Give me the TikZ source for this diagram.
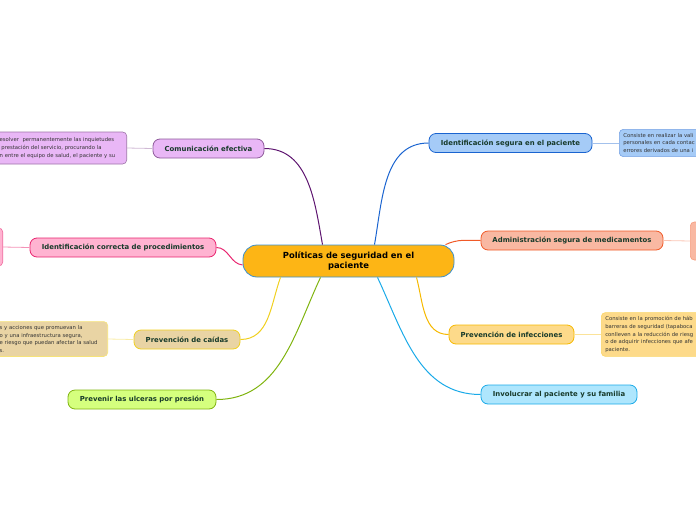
\documentclass[tikz,border=0pt]{standalone}
\usepackage{fontspec}
\setmainfont{DejaVu Sans}
\usetikzlibrary{positioning}

\definecolor{hubfill}{HTML}{FDB515}
\definecolor{hubline}{HTML}{3A90D0}
\definecolor{comfill}{HTML}{E9B7F6}
\definecolor{comline}{HTML}{5E1570}
\definecolor{corfill}{HTML}{FFB3D1}
\definecolor{corline}{HTML}{E8246F}
\definecolor{caifill}{HTML}{E9D4A4}
\definecolor{cailine}{HTML}{F0D020}
\definecolor{ulcfill}{HTML}{D5FF7E}
\definecolor{ulcline}{HTML}{80B410}
\definecolor{segfill}{HTML}{A5CBF7}
\definecolor{segline}{HTML}{1A64D0}
\definecolor{admfill}{HTML}{F9B8A2}
\definecolor{admline}{HTML}{F05A28}
\definecolor{inffill}{HTML}{FDDA8A}
\definecolor{infline}{HTML}{F6B900}
\definecolor{invfill}{HTML}{AEE6FD}
\definecolor{invline}{HTML}{1AAAE8}
\definecolor{labeltext}{HTML}{173A2A}

\begin{document}
\begin{tikzpicture}[x=1pt, y=-1pt,
	every node/.style={font=\bfseries\fontsize{6.9}{8}\selectfont, text=labeltext},
	hub/.style={draw=hubline, fill=hubfill, line width=0.8pt, rounded corners=14pt, minimum width=211pt, minimum height=32pt, align=center, text=black, font=\bfseries\fontsize{8.4}{10}\selectfont},
	topic/.style={draw, line width=0.8pt, rounded corners=7pt, minimum height=19pt, inner xsep=4pt},
	note/.style={draw, line width=0.6pt, rounded corners=4pt, align=left, inner sep=4pt, text=black!80, font=\fontsize{5.3}{7.6}\selectfont},
	branch/.style={line width=1pt},
	twig/.style={line width=0.8pt}]
	\useasboundingbox (0,0) rectangle (696,520);
	\clip (0,0) rectangle (696,520);
	% central idea
	\node[hub] (ctr) at (348.5,261) {Políticas de seguridad en el\\paciente};
	% left branches
	\node[topic, fill=comfill, draw=comline!70, minimum width=111pt] (com) at (208.5,148.5) {Comunicación efectiva};
	\node[topic, fill=corfill, draw=corline, minimum width=186pt] (cor) at (123,247.5) {Identificación correcta de procedimientos};
	\node[topic, fill=caifill, draw=cailine, minimum width=106pt] (cai) at (187,339.5) {Prevención de caídas};
	\node[topic, fill=ulcfill, draw=ulcline, minimum width=148pt] (ulc) at (142,399.5) {Prevenir las ulceras por presión};
	% right branches
	\node[topic, fill=segfill, draw=segline, minimum width=163pt] (seg) at (510.5,143) {Identificación segura en el paciente};
	\node[topic, fill=admfill, draw=admline, minimum width=182pt] (adm) at (572,240.5) {Administración segura de medicamentos};
	\node[topic, fill=inffill, draw=infline, minimum width=125pt] (inf) at (511.5,334.5) {Prevención de infecciones};
	\node[topic, fill=invfill, draw=invline, minimum width=156pt] (inv) at (559,394.5) {Involucrar al paciente y su familia};
	% notes
	\node[note, fill=comfill, draw=comline!60, anchor=east, text width=123pt, minimum height=32pt] (comnote) at (127,148) {esolver\ \ permanentemente las inquietudes\\\ prestación del servicio, procurando la\\n entre el equipo de salud, el paciente y su};
	\node[note, fill=corfill, draw=corline!70, anchor=east, minimum width=30pt, minimum height=38pt] (cornote) at (3,247) {};
	\node[note, fill=caifill, draw=cailine!60, anchor=east, text width=104pt, minimum height=32pt] (cainote) at (108,339) {s y acciones que promuevan la\\o y una infraestructura segura,\\e riesgo que puedan afectar la salud\\s.};
	\node[note, fill=segfill, draw=segline!60, anchor=west, text width=120pt, minimum height=26pt] (segnote) at (619,143) {Consiste en realizar la vali\\personales en cada contac\\errores derivados de una i};
	\node[note, fill=admfill, draw=admline!60, anchor=west, minimum width=40pt, minimum height=38pt] (admnote) at (690,241) {};
	\node[note, fill=inffill, draw=infline!60, anchor=west, text width=120pt, minimum height=39pt] (infnote) at (601,334.5) {Consiste en la promoción de háb\\barreras de seguridad (tapaboca\\conlleven a la reducción de riesg\\o de adquirir infecciones que afe\\paciente.};
	% connectors from the centre
	\draw[branch, comline] ([xshift=-26pt]ctr.north) to[out=100, in=0] (com.east);
	\draw[branch, corline] ([yshift=-4pt]ctr.west) to[out=175, in=0] (cor.east);
	\draw[branch, cailine] ([xshift=-68pt]ctr.south) to[out=-110, in=0] (cai.east);
	\draw[branch, ulcline] ([xshift=-28pt]ctr.south) to[out=-115, in=0] (ulc.east);
	\draw[branch, segline] ([xshift=26pt]ctr.north) to[out=80, in=180] (seg.west);
	\draw[branch, admline] ([xshift=97pt]ctr.north) to[out=25, in=180] (adm.west);
	\draw[branch, infline] ([xshift=68pt]ctr.south) to[out=-75, in=180] (inf.west);
	\draw[branch, invline] ([xshift=29pt]ctr.south) to[out=-65, in=180] (inv.west);
	% links to notes
	\draw[twig, comline!30] (com.west) -- (comnote.east);
	\draw[twig, corline!50] (cor.west) -- (cornote.east);
	\draw[twig, cailine!40] (cai.west) -- (cainote.east);
	\draw[twig, segline!40] (seg.east) -- (segnote.west);
	\draw[twig, admline!35] (adm.east) -- (admnote.west);
	\draw[twig, infline!40] (inf.east) -- (infnote.west);
\end{tikzpicture}
\end{document}
